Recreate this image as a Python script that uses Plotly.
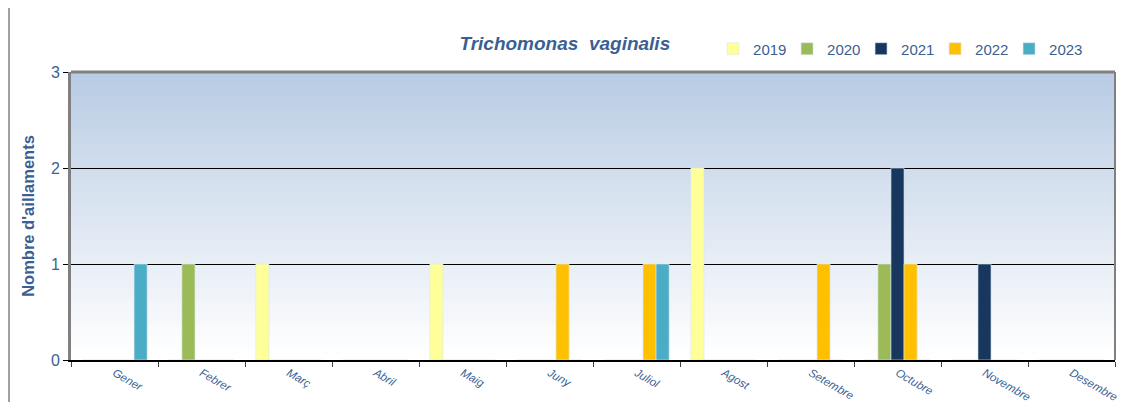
import plotly.graph_objects as go

months = ["Gener", "Febrer", "Març", "Abril", "Maig", "Juny", "Juliol",
          "Agost", "Setembre", "Octubre", "Novembre", "Desembre"]
years = ["2019", "2020", "2021", "2022", "2023"]
v2019 = [0, 0, 1, 0, 1, 0, 0, 2, 0, 0, 0, 0]
v2020 = [0, 1, 0, 0, 0, 0, 0, 0, 0, 1, 0, 0]
v2021 = [0, 0, 0, 0, 0, 0, 0, 0, 0, 2, 1, 0]
v2022 = [0, 0, 0, 0, 0, 1, 1, 0, 1, 1, 0, 0]
v2023 = [1, 0, 0, 0, 0, 0, 1, 0, 0, 0, 0, 0]
series = [v2019, v2020, v2021, v2022, v2023]
colors = ["#FFFF99", "#9BBB59", "#17375E", "#FFC000", "#4BACC6"]
yticks = [0, 1, 2, 3]

txt = "#3B5F93"
fig = go.Figure()
for y, vals, c in zip(years, series, colors):
    fig.add_trace(go.Bar(name=y, x=months, y=vals,
                         marker=dict(color=c, line=dict(color="rgba(220,230,240,0.6)", width=1))))

# gradient background
shapes = []
n = 48
top = (185, 204, 228)
bot = (255, 255, 255)
for i in range(n):
    t = i / (n - 1)
    col = tuple(int(round(top[k] + (bot[k] - top[k]) * t)) for k in range(3))
    shapes.append(dict(type="rect", xref="x domain", yref="y domain",
                       x0=0, x1=1, y0=max(0, 1 - (i + 1) / n - 0.006), y1=1 - i / n,
                       fillcolor="rgb(%d,%d,%d)" % col, line=dict(width=0), layer="below"))
# borders
shapes.append(dict(type="line", xref="x domain", yref="y domain", x0=0, x1=1, y0=1, y1=1,
                   line=dict(color="#808080", width=3)))
shapes.append(dict(type="line", xref="x domain", yref="y domain", x0=1, x1=1, y0=0, y1=1,
                   line=dict(color="#808080", width=2)))
shapes.append(dict(type="line", xref="paper", yref="paper", x0=-62/1044, x1=-62/1044, y0=-0.2, y1=1.3,
                   line=dict(color="#404040", width=1)))

fig.update_layout(
    width=1112, height=394,
    margin=dict(l=63, r=5, t=64, b=42, autoexpand=False),
    barmode="group", bargap=0.25, bargroupgap=0,
    paper_bgcolor="white", plot_bgcolor="white",
    font=dict(family="Liberation Sans, Arial", color=txt),
    title=dict(text="<b><i>Trichomonas  vaginalis</i></b>", x=0.473, xanchor="center", xref="paper",
               y=0.911, yanchor="middle", font=dict(size=19, color=txt)),
    legend=dict(orientation="h", x=0.615, xanchor="left", y=1.08, yanchor="middle",
                font=dict(size=15, color=txt), itemwidth=30, traceorder="normal",
                entrywidth=29, bgcolor="rgba(0,0,0,0)"),
    shapes=shapes,
    xaxis=dict(tickangle=30, tickfont=dict(size=11.5, style="italic", color=txt), automargin=False,
               showline=True, linecolor="black", linewidth=2, ticks="outside",
               tickson="boundaries", ticklen=5, tickcolor="#404040", showgrid=False),
    yaxis=dict(range=[0, 3], tickvals=yticks, tickfont=dict(size=16, color=txt), automargin=False,
               showgrid=True, gridcolor="black", gridwidth=1, zeroline=False,
               showline=True, linecolor="#808080", linewidth=3, ticks="outside", ticklen=5,
               tickcolor="black",
               title=dict(text="<b>Nombre d'aillaments</b>", font=dict(size=16.5, color=txt), standoff=13)),
)
fig.write_html("out.html")
